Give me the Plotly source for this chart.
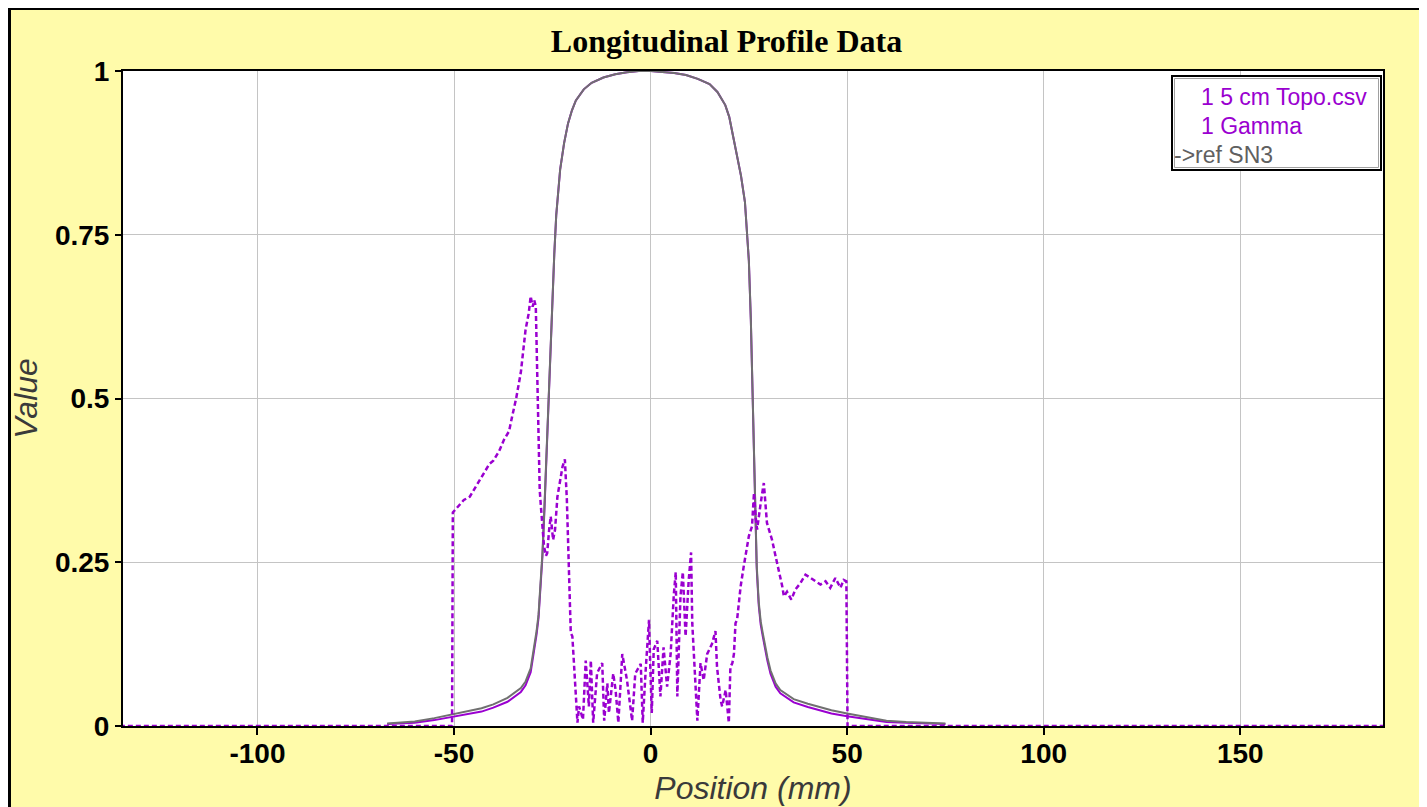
import plotly.graph_objects as go

# ---------------- data ----------------
pos_profile = [-67, -60, -55, -50, -46, -43, -40, -36.4, -33, -31.8, -30.5, -29.7, -29, -28.5, -28,
               -27.5, -27, -26.5, -26, -25.5, -25, -24.5, -24, -23, -22, -21, -20, -19, -17, -15,
               -12, -9, -6, -3, 0, 3, 6, 9, 12, 15, 17, 19, 20, 21, 22, 23, 24, 24.5, 25, 25.5, 26,
               26.5, 27, 27.5, 28, 28.5, 29, 29.7, 30.5, 31.8, 33, 36.4, 40, 43, 46, 50, 55, 60, 65,
               70, 75]
topo_profile = [0.003, 0.005, 0.009, 0.014, 0.018, 0.022, 0.028, 0.037, 0.052, 0.062, 0.082, 0.11,
                0.14, 0.165, 0.205, 0.26, 0.33, 0.41, 0.50, 0.58, 0.66, 0.72, 0.78, 0.85, 0.89,
                0.92, 0.94, 0.955, 0.972, 0.982, 0.99, 0.995, 0.998, 1.0, 1.0, 0.999, 0.997,
                0.994, 0.988, 0.98, 0.968, 0.948, 0.93, 0.90, 0.87, 0.84, 0.80, 0.76, 0.71,
                0.62, 0.48, 0.34, 0.24, 0.185, 0.155, 0.138, 0.12, 0.10, 0.08, 0.06, 0.05, 0.036,
                0.029, 0.024, 0.019, 0.015, 0.011, 0.006, 0.005, 0.004, 0.003]
ref_profile = [0.004, 0.007, 0.012, 0.018, 0.023, 0.027, 0.033, 0.043, 0.058, 0.068, 0.088, 0.115,
               0.145, 0.17, 0.21, 0.265, 0.335, 0.415, 0.50, 0.58, 0.66, 0.72, 0.78, 0.85, 0.89,
               0.92, 0.94, 0.955, 0.972, 0.982, 0.99, 0.995, 0.998, 1.0, 1.0, 0.999, 0.997,
               0.994, 0.988, 0.98, 0.968, 0.948, 0.93, 0.90, 0.87, 0.84, 0.80, 0.76, 0.71,
               0.62, 0.48, 0.345, 0.245, 0.19, 0.16, 0.143, 0.125, 0.105, 0.085, 0.065, 0.055,
               0.041, 0.034, 0.029, 0.024, 0.019, 0.014, 0.008, 0.006, 0.005, 0.004]

gamma_pos = [-135, -50.5, -50.3, -49, -47.5, -46, -45, -43.5, -42.4, -41, -40, -38.5, -37.3, -36,
             -35.2, -34.2, -33.0, -32.3, -31.8, -31, -30.5, -30, -29.6, -29.2, -28.8, -28.5, -28.2,
             -27.9, -27.1, -26.6, -26.3, -25.8, -25.4, -24.8, -24.3, -23.7, -22.4, -21.8, -21.3,
             -20.7, -20.3, -19.9, -19.5, -19.1, -18.6, -18.2, -17.2, -16.5, -15.7, -15.2, -14.6,
             -13.6, -12.3, -11.8, -11.0, -10.6, -9.5, -8.9, -8.2, -7.2, -6.6, -6.0, -4.7, -3.9,
             -2.5, -2.0, -1.2, -0.4, -0.1, 0.3, 0.8, 1.7, 2.5, 3.3, 4.2, 5.1, 5.9, 6.4, 6.8, 7.6,
             8.2, 8.9, 9.7, 10.3, 10.6, 11.0, 11.9, 12.7, 13.5, 14.4, 15.6, 16.5, 16.9, 17.8, 18.2,
             19.1, 19.9, 20.3, 20.8, 21.2, 21.6, 22.0, 22.9, 23.7, 25.0, 25.8, 26.3, 26.7, 27.1,
             28.0, 28.8, 29.6, 30.9, 31.8, 32.6, 33.5, 33.9, 34.7, 35.8, 36.8, 38.1, 39.4, 40.7,
             41.9, 43.2, 44.5, 45.7, 47.0, 48.3, 49.1, 49.8, 50.1, 190]
gamma_val = [0, 0, 0.326, 0.335, 0.345, 0.35, 0.36, 0.375, 0.387, 0.40, 0.405, 0.42, 0.437, 0.45,
             0.473, 0.50, 0.54, 0.58, 0.605, 0.63, 0.656, 0.64, 0.65, 0.641, 0.529, 0.41, 0.36,
             0.335, 0.274, 0.26, 0.264, 0.30, 0.32, 0.284, 0.30, 0.35, 0.396, 0.407, 0.346, 0.223,
             0.142, 0.137, 0.096, 0.045, 0.005, 0.03, 0.01, 0.1, 0.03, 0.1, 0.005, 0.081, 0.096,
             0.008, 0.065, 0.02, 0.08, 0.055, 0.005, 0.11, 0.09, 0.07, 0.008, 0.08, 0.095, 0.005,
             0.09, 0.162, 0.096, 0.02, 0.117, 0.13, 0.045, 0.12, 0.06, 0.11, 0.20, 0.235, 0.045,
             0.198, 0.235, 0.137, 0.223, 0.265, 0.157, 0.107, 0.008, 0.096, 0.07, 0.11, 0.125,
             0.145, 0.09, 0.04, 0.03, 0.055, 0.005, 0.09, 0.096, 0.11, 0.157, 0.162, 0.213, 0.244,
             0.29, 0.305, 0.356, 0.32, 0.30, 0.34, 0.371, 0.31, 0.284, 0.259, 0.238, 0.213, 0.198,
             0.205, 0.193, 0.208, 0.218, 0.231, 0.226, 0.221, 0.216, 0.221, 0.211, 0.226, 0.211,
             0.223, 0.221, 0, 0]

x_ticks = [-100, -50, 0, 50, 100, 150]
x_tick_text = ["-100", "-50", "0", "50", "100", "150"]
y_ticks = [0, 0.25, 0.5, 0.75, 1]
y_tick_text = ["0", "0.25", "0.5", "0.75", "1"]
legend_names = ["1 5 cm Topo.csv", "1 Gamma", "->ref SN3"]

# ---------------- style ----------------
OFF = 8                      # page body margin
W, H = 1427 - OFF, 807 - OFF  # figure size
# plot area in absolute page pixels
PL, PR, PT, PB = 123, 1383, 71, 726
L, T = PL - OFF, PT - OFF
R, B = W - (PR - OFF), H - (PB - OFF)
PW, PH = PR - PL, PB - PT
PURPLE = "#9A00D0"
GRAY = "#707070"
YELLOW = "#FFFBAA"


def px(x):  # absolute page x -> paper
    return (x - PL) / PW


def py(y):  # absolute page y -> paper
    return (PB - y) / PH


fig = go.Figure()
fig.add_trace(go.Scatter(x=pos_profile, y=topo_profile, mode="lines", name=legend_names[0],
                         line=dict(color=PURPLE, width=2)))
fig.add_trace(go.Scatter(x=pos_profile, y=ref_profile, mode="lines", name=legend_names[2],
                         line=dict(color=GRAY, width=2)))
fig.add_trace(go.Scatter(x=gamma_pos, y=gamma_val, mode="lines", name=legend_names[1],
                         line=dict(color=PURPLE, width=2.5, dash="5px,3px")))

shapes = [
    # outer frame lines (top and left)
    dict(type="line", xref="paper", yref="paper", x0=px(OFF), x1=px(1427), y0=py(OFF + 0.5),
         y1=py(OFF + 0.5), line=dict(color="black", width=3), layer="above"),
    dict(type="line", xref="paper", yref="paper", x0=px(OFF + 1.5), x1=px(OFF + 1.5),
         y0=py(OFF), y1=py(807), line=dict(color="black", width=3), layer="above"),
    # legend box
    dict(type="rect", xref="paper", yref="paper", x0=px(1172), x1=px(1381), y0=py(170), y1=py(76),
         fillcolor="white", line=dict(color="black", width=2), layer="above"),
    dict(type="rect", xref="paper", yref="paper", x0=px(1174.5), x1=px(1378.5), y0=py(167.5),
         y1=py(78.5), line=dict(color="#A0A0A0", width=1), layer="above"),
]

legend_font = dict(family="Liberation Sans", size=23)
annotations = [
    dict(text=legend_names[0], xref="paper", yref="paper", x=px(1199), y=py(97), xanchor="left",
         yanchor="middle", showarrow=False, font=dict(color=PURPLE, **legend_font)),
    dict(text=legend_names[1], xref="paper", yref="paper", x=px(1199), y=py(126), xanchor="left",
         yanchor="middle", showarrow=False, font=dict(color=PURPLE, **legend_font)),
    dict(text=legend_names[2], xref="paper", yref="paper", x=px(1172), y=py(155), xanchor="left",
         yanchor="middle", showarrow=False, font=dict(color="#606060", **legend_font)),
]

tick_font = dict(family="Liberation Sans", size=28, color="black", weight="bold")
title_font = dict(family="Liberation Sans", size=32, color="#3A3A3A", style="italic")

fig.update_layout(
    width=W, height=H,
    margin=dict(l=L, r=R, t=T, b=B, pad=0, autoexpand=False),
    paper_bgcolor=YELLOW,
    plot_bgcolor="white",
    showlegend=False,
    title=dict(text="Longitudinal Profile Data", x=px(726.5), xref="paper", xanchor="center",
               y=1 - (41 - OFF) / H, yanchor="middle",
               font=dict(family="Liberation Serif", size=32, color="black", weight="bold")),
    xaxis=dict(range=[-134.2, 186.3], tickvals=x_ticks, ticktext=x_tick_text, ticks="outside",
               ticklen=7, tickcolor="black", tickwidth=2, showgrid=True, gridcolor="#C4C4C4",
               gridwidth=1, zeroline=False, showline=True, linecolor="black", linewidth=2,
               mirror=True, automargin=False, tickfont=tick_font, ticklabelstandoff=-6,
               title=dict(text="Position (mm)", standoff=9, font=title_font)),
    yaxis=dict(range=[0, 1], tickvals=y_ticks, ticktext=y_tick_text, ticks="outside", ticklen=6,
               tickcolor="black", tickwidth=2, showgrid=True, gridcolor="#C4C4C4", gridwidth=1,
               zeroline=False, showline=True, linecolor="black", linewidth=2, mirror=True,
               automargin=False, tickfont=tick_font,
               title=dict(text="Value", standoff=8, font=title_font)),
    shapes=shapes,
    annotations=annotations,
)

fig.write_html("out.html")
